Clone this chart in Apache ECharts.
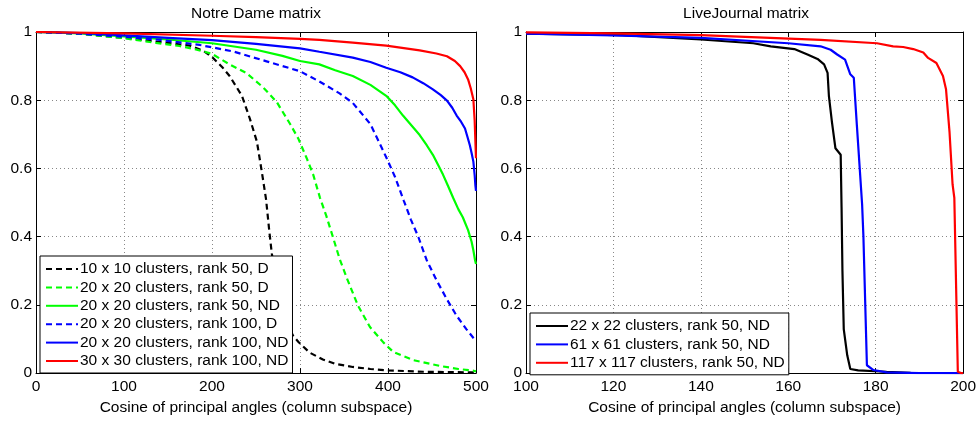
<!DOCTYPE html>
<html>
<head>
<meta charset="utf-8">
<script src="https://cdn.jsdelivr.net/npm/echarts@6/dist/echarts.min.js"></script>
<style>html,body{margin:0;padding:0;background:#fff;}#c{width:979px;height:421px;}</style>
</head>
<body>
<div id="c"></div>
<script>
// ---- Data ----
const leftTitle = 'Notre Dame matrix';
const rightTitle = 'LiveJournal matrix';
const xName = 'Cosine of principal angles (column subspace)';
const yTicks = [0, 0.2, 0.4, 0.6, 0.8, 1];
const leftXTicks = [0, 100, 200, 300, 400, 500];
const rightXTicks = [100, 120, 140, 160, 180, 200];

const nd10D = [[0,1],[50,0.995],[100,0.983],[150,0.968],[175,0.96],[190,0.945],[200,0.927],[212,0.896],[220,0.871],[234,0.813],[243,0.746],[251,0.679],[256.5,0.592],[261.4,0.51],[265,0.419],[268,0.35],[272,0.285],[280,0.2],[286,0.145],[292,0.11],[298,0.092],[311,0.06],[326,0.04],[340,0.027],[360,0.018],[380,0.012],[400,0.008],[440,0.004],[500,0.002]];
const nd20D50 = [[0,1],[50,0.995],[100,0.982],[136,0.968],[163,0.959],[180,0.95],[200,0.936],[220,0.905],[239,0.88],[258,0.838],[273.5,0.795],[288.6,0.731],[298,0.688],[307.6,0.63],[315,0.582],[322.7,0.514],[330,0.46],[338,0.394],[345,0.335],[353,0.28],[366,0.197],[379.5,0.135],[394.7,0.09],[406,0.062],[428.8,0.038],[459,0.021],[480,0.012],[497,0.007],[500,0.005]];
const nd20ND50 = [[0,1],[50,0.996],[100,0.987],[150,0.978],[200,0.967],[250,0.948],[280,0.93],[300,0.915],[322,0.905],[340,0.888],[360,0.871],[380,0.845],[398,0.813],[408,0.785],[417,0.755],[427,0.725],[436,0.698],[444,0.668],[451,0.64],[457,0.61],[462.5,0.582],[468,0.55],[474,0.514],[480,0.48],[485,0.457],[491,0.419],[495,0.385],[497,0.36],[499,0.33],[500,0.32]];
const nd20D100 = [[0,1],[50,0.995],[94,0.987],[141,0.977],[186,0.962],[224,0.943],[262,0.914],[300,0.885],[322,0.855],[345,0.82],[360,0.792],[380,0.73],[398.5,0.63],[408,0.575],[418,0.505],[426,0.45],[434.5,0.399],[444,0.331],[455,0.273],[467,0.216],[478,0.168],[489,0.129],[498,0.1],[500,0.095]];
const nd20ND100 = [[0,1],[50,0.997],[100,0.99],[150,0.983],[200,0.976],[250,0.965],[300,0.952],[322,0.942],[360,0.925],[380,0.912],[398,0.895],[414,0.882],[428,0.867],[440,0.85],[451,0.832],[460,0.815],[467,0.799],[473,0.778],[478,0.755],[483,0.737],[487.5,0.717],[490,0.695],[493,0.668],[495,0.645],[497,0.62],[498.5,0.58],[499.3,0.55],[500,0.534]];
const nd30ND100 = [[0,1],[100,0.996],[200,0.989],[250,0.985],[300,0.98],[322,0.977],[360,0.969],[398,0.96],[436,0.946],[455,0.937],[467,0.929],[476,0.915],[482,0.9],[487,0.882],[491,0.861],[494,0.835],[497,0.803],[498.5,0.74],[499.3,0.68],[500,0.63]];

const lj22 = [[100,0.995],[122,0.991],[140,0.978],[152,0.967],[156,0.958],[161.4,0.95],[164.4,0.934],[166.7,0.921],[168.2,0.905],[169,0.88],[169.3,0.813],[170,0.736],[170.8,0.659],[172,0.64],[172.2,0.486],[172.4,0.3],[172.7,0.129],[173.5,0.052],[174.2,0.012],[176,0.008],[182.5,0.004],[188,0.001],[200,0]];
const lj61 = [[100,0.995],[120,0.99],[140,0.983],[160,0.967],[167.4,0.958],[169.7,0.948],[171.2,0.934],[173,0.919],[174.2,0.876],[175,0.866],[175.7,0.727],[176.9,0.495],[177.2,0.4],[178,0.023],[179.5,0.009],[182.5,0.002],[190,0],[200,0]];
const lj117 = [[100,0.999],[120,0.996],[140,0.991],[167.4,0.977],[180.3,0.967],[184,0.958],[186.3,0.956],[188.6,0.95],[190.9,0.94],[192,0.924],[193.9,0.909],[195.4,0.871],[196.1,0.832],[196.9,0.707],[197.6,0.553],[198,0.514],[198.8,0.004],[199.5,0],[200,0]];

const leftNames = ['10 x 10 clusters, rank 50, D','20 x 20 clusters, rank 50, D','20 x 20 clusters, rank 50, ND','20 x 20 clusters, rank 100, D','20 x 20 clusters, rank 100, ND','30 x 30 clusters, rank 100, ND'];
const rightNames = ['22 x 22 clusters, rank 50, ND','61 x 61 clusters, rank 50, ND','117 x 117 clusters, rank 50, ND'];

// ---- Chart ----
const FONT = '"Liberation Sans", Arial, Helvetica, sans-serif';
const FS = 15.5;
const chart = echarts.init(document.getElementById('c'), null, {renderer: 'canvas'});

function mkSeries(name, data, color, dashed, xi, yi) {
  return {
    name, type: 'line', data, xAxisIndex: xi, yAxisIndex: yi,
    symbol: 'none', showSymbol: false, smooth: false, animation: false,
    lineStyle: {color, width: 2.2, type: dashed ? [6, 4] : 'solid'},
    itemStyle: {color}, z: 3
  };
}

function xAxes(gi, ticks, main) {
  const min = ticks[0], max = ticks[ticks.length - 1], interval = ticks[1] - ticks[0];
  return {
    type: 'value', gridIndex: gi, min, max, interval,
    position: main ? 'bottom' : 'top',
    name: main ? xName : '', nameLocation: 'middle', nameGap: 23,
    nameTextStyle: {fontFamily: FONT, fontSize: FS, color: '#000'},
    axisLine: {show: true, onZero: false, lineStyle: {color: '#000', width: 1}},
    axisTick: {show: true, inside: true, length: 5, lineStyle: {color: '#000'}},
    axisLabel: {show: main, margin: 6, fontFamily: FONT, fontSize: FS, color: '#000'},
    splitLine: {show: main, lineStyle: {color: '#888', type: [1, 3], width: 1}}
  };
}
function yAxes(gi, main) {
  return {
    type: 'value', gridIndex: gi, min: 0, max: 1, interval: 0.2,
    position: main ? 'left' : 'right',
    axisLine: {show: true, onZero: false, lineStyle: {color: '#000', width: 1}},
    axisTick: {show: true, inside: true, length: 5, lineStyle: {color: '#000'}},
    axisLabel: {show: main, margin: 4, fontFamily: FONT, fontSize: FS, color: '#000'},
    splitLine: {show: main, lineStyle: {color: '#888', type: [1, 3], width: 1}}
  };
}

const legendCommon = {
  orient: 'vertical', backgroundColor: '#fff', borderColor: '#000', borderWidth: 1,
  padding: [5, 4, 4, 5], itemWidth: 32, itemHeight: 14, itemGap: 2.4,
  itemStyle: {opacity: 0, borderWidth: 0},
  textStyle: {fontFamily: FONT, fontSize: FS, color: '#000', lineHeight: 16, padding: [0, 0, 0, -3]},
  selectedMode: false, z: 10
};

const option = {
  animation: false,
  backgroundColor: '#fff',
  title: [
    {text: leftTitle, left: 256, top: 6, textAlign: 'center', padding: 0,
     textStyle: {fontFamily: FONT, fontSize: FS, fontWeight: 'normal', color: '#000'}},
    {text: rightTitle, left: 746, top: 6, textAlign: 'center', padding: 0,
     textStyle: {fontFamily: FONT, fontSize: FS, fontWeight: 'normal', color: '#000'}}
  ],
  grid: [
    {left: 36, top: 32, width: 440, height: 346, containLabel: false},
    {left: 526, top: 32, width: 441, height: 346, containLabel: false}
  ],
  xAxis: [xAxes(0, leftXTicks, true), xAxes(0, leftXTicks, false), xAxes(1, rightXTicks, true), xAxes(1, rightXTicks, false)],
  yAxis: [yAxes(0, true), yAxes(0, false), yAxes(1, true), yAxes(1, false)],
  legend: [
    Object.assign({}, legendCommon, {left: 40, top: 256, data: leftNames}),
    Object.assign({}, legendCommon, {left: 530, top: 313, data: rightNames})
  ],
  series: [
    mkSeries(leftNames[0], nd10D, '#000000', true, 0, 0),
    mkSeries(leftNames[1], nd20D50, '#00ff00', true, 0, 0),
    mkSeries(leftNames[2], nd20ND50, '#00ff00', false, 0, 0),
    mkSeries(leftNames[3], nd20D100, '#0000ff', true, 0, 0),
    mkSeries(leftNames[4], nd20ND100, '#0000ff', false, 0, 0),
    mkSeries(leftNames[5], nd30ND100, '#ff0000', false, 0, 0),
    mkSeries(rightNames[0], lj22, '#000000', false, 2, 2),
    mkSeries(rightNames[1], lj61, '#0000ff', false, 2, 2),
    mkSeries(rightNames[2], lj117, '#ff0000', false, 2, 2)
  ]
};
chart.setOption(option);
</script>
</body>
</html>
